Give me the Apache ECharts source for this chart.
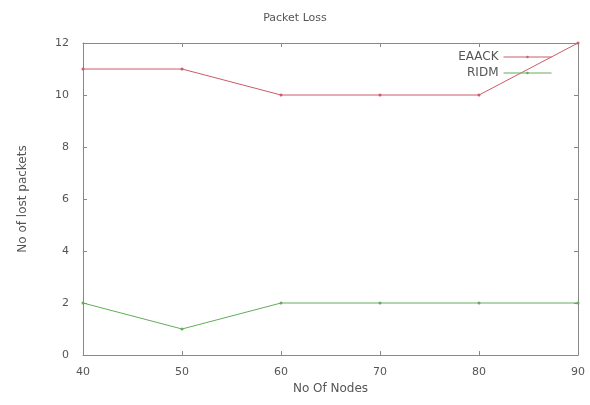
<!DOCTYPE html>
<html>
<head>
<meta charset="utf-8">
<script src="https://cdn.jsdelivr.net/npm/echarts@6/dist/echarts.min.js"></script>
<style>
html, body { margin: 0; padding: 0; background: #fff; }
#chart { width: 590px; height: 405px; }
</style>
</head>
<body>
<div id="chart"></div>
<script>
// values
var nodes = [40, 50, 60, 70, 80, 90];
var eaack = [11, 11, 10, 10, 10, 12];
var ridm = [2, 1, 2, 2, 2, 2];

var chart = echarts.init(document.getElementById('chart'));

var txt = { color: '#555', fontFamily: 'DejaVu Sans', fontSize: 11 };
var boxLine = { show: true, onZero: false, lineStyle: { color: '#888', width: 1 } };
var tick = { show: true, inside: true, length: 4, lineStyle: { color: '#888' } };

function pts(ys) {
    return nodes.map(function (x, i) { return [x, ys[i]]; });
}

chart.setOption({
    backgroundColor: '#fff',
    animation: false,
    title: {
        text: 'Packet Loss',
        left: 'center',
        top: 8,
        textStyle: { color: '#555', fontFamily: 'DejaVu Sans', fontSize: 11, fontWeight: 'normal' }
    },
    legend: {
        orient: 'vertical',
        right: 33,
        top: 46,
        align: 'right',
        itemWidth: 48,
        itemHeight: 3,
        itemGap: 4,
        lineStyle: { width: 1 },
        textStyle: { color: '#555', fontFamily: 'DejaVu Sans', fontSize: 12 },
        data: ['EAACK', 'RIDM']
    },
    grid: { left: 83, right: 12, top: 43, bottom: 50 },
    xAxis: [{
        type: 'value',
        min: 40, max: 90, interval: 10,
        name: 'No Of Nodes',
        nameLocation: 'middle',
        nameGap: 24,
        nameTextStyle: { color: '#555', fontFamily: 'DejaVu Sans', fontSize: 12 },
        axisLine: boxLine,
        axisTick: tick,
        axisLabel: Object.assign({ margin: 12 }, txt),
        splitLine: { show: false }
    }, {
        type: 'value',
        position: 'top',
        min: 40, max: 90, interval: 10,
        axisLine: boxLine,
        axisTick: tick,
        axisLabel: { show: false },
        splitLine: { show: false }
    }],
    yAxis: [{
        type: 'value',
        min: 0, max: 12, interval: 2,
        name: 'No of lost packets',
        nameLocation: 'middle',
        nameGap: 54,
        nameTextStyle: { color: '#555', fontFamily: 'DejaVu Sans', fontSize: 12 },
        axisLine: boxLine,
        axisTick: tick,
        axisLabel: Object.assign({ margin: 14 }, txt),
        splitLine: { show: false }
    }, {
        type: 'value',
        position: 'right',
        min: 0, max: 12, interval: 2,
        axisLine: boxLine,
        axisTick: tick,
        axisLabel: { show: false },
        splitLine: { show: false }
    }],
    series: [{
        name: 'EAACK',
        type: 'line',
        data: pts(eaack),
        symbol: 'circle',
        symbolSize: 3,
        color: '#cc5a68',
        lineStyle: { width: 1, color: '#cc5a68' },
        itemStyle: { color: '#cc5a68' }
    }, {
        name: 'RIDM',
        type: 'line',
        data: pts(ridm),
        symbol: 'circle',
        symbolSize: 3,
        color: '#62ad5a',
        lineStyle: { width: 1, color: '#62ad5a' },
        itemStyle: { color: '#62ad5a' }
    }]
});
</script>
</body>
</html>
